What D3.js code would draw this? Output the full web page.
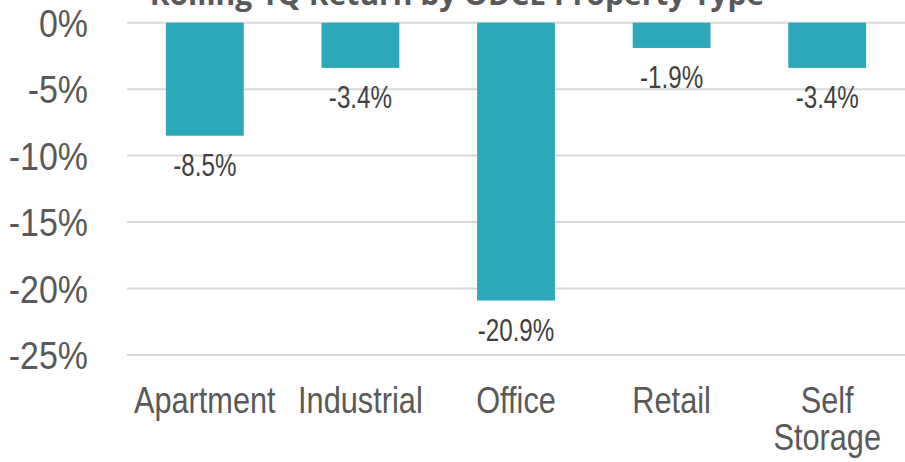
<!DOCTYPE html>
<html>
<head>
<meta charset="utf-8">
<script src="https://cdn.jsdelivr.net/npm/d3@7"></script>
<style>
  html, body { margin: 0; padding: 0; background: #fff; }
  svg { display: block; }
  .narrow { font-family: "Liberation Sans", Arial, sans-serif; }
</style>
</head>
<body>
<svg id="chart" width="905" height="462"></svg>
<script>
const title = "Rolling 1Q Return by ODCE Property Type";
const categories = ["Apartment", "Industrial", "Office", "Retail", "Self Storage"];
const values = [-8.5, -3.4, -20.9, -1.9, -3.4];
const yTicks = [0, -5, -10, -15, -20, -25];

const W = 905, H = 462;
const svg = d3.select("#chart");

const x = d3.scaleBand().domain(categories).range([127, 905]).paddingInner(0.5).paddingOuter(0.25);
const y = d3.scaleLinear().domain([-25, 0]).range([355, 22.7]);

// gridlines
svg.append("g").selectAll("line").data(yTicks).join("line")
  .attr("x1", 127).attr("x2", 905)
  .attr("y1", d => y(d)).attr("y2", d => y(d))
  .attr("stroke", "#d9d9d9").attr("stroke-width", 2);

// y axis labels (condensed)
const yAxis = d3.axisLeft(y).tickValues(yTicks).tickSize(0).tickPadding(0).tickFormat(d => d + "%");
const gy = svg.append("g").call(yAxis);
gy.select(".domain").remove();
gy.selectAll(".tick").attr("transform", d => `translate(88,${y(d)}) scale(0.87,1)`);
gy.selectAll("text").attr("class", "narrow").attr("font-size", 39).attr("fill", "#595959").attr("x", 0).attr("dy", "0.36em");

// bars
svg.append("g").selectAll("rect").data(values).join("rect")
  .attr("x", (d, i) => x(categories[i]))
  .attr("width", x.bandwidth())
  .attr("y", d => y(Math.max(0, d)))
  .attr("height", d => Math.abs(y(d) - y(0)))
  .attr("fill", "#2ba9b9");

// data labels
svg.append("g").selectAll("text").data(values).join("text")
  .attr("class", "narrow")
  .attr("transform", (d, i) => `translate(${x(categories[i]) + x.bandwidth() / 2},${y(d) + 40}) scale(0.78,1)`)
  .attr("text-anchor", "middle")
  .attr("font-size", 31)
  .attr("fill", "#404040")
  .text(d => d.toFixed(1) + "%");

// category labels
const xAxis = d3.axisBottom(x).tickSize(0).tickPadding(0);
const gx = svg.append("g").call(xAxis);
gx.select(".domain").remove();
gx.selectAll(".tick").attr("transform", d => `translate(${x(d) + x.bandwidth() / 2},0) scale(0.83,1)`);
gx.selectAll(".tick text").each(function(d) {
  const t = d3.select(this);
  t.text(null).attr("y", 0).attr("dy", null).attr("class", "narrow")
   .attr("font-size", 37).attr("fill", "#595959").attr("text-anchor", "middle");
  const words = d === "Self Storage" ? ["Self", "Storage"] : [d];
  words.forEach((w, k) => {
    t.append("tspan").attr("x", 0).attr("y", 413 + k * 37).text(w);
  });
});

// title (partially cut off at top, as in the reference)
svg.append("text")
  .attr("x", 457).attr("y", 5)
  .attr("text-anchor", "middle")
  .attr("font-family", "'Open Sans', 'Liberation Sans', Arial, sans-serif")
  .attr("font-weight", "bold")
  .attr("font-size", 30)
  .attr("fill", "#595959")
  .text(title);
</script>
</body>
</html>
